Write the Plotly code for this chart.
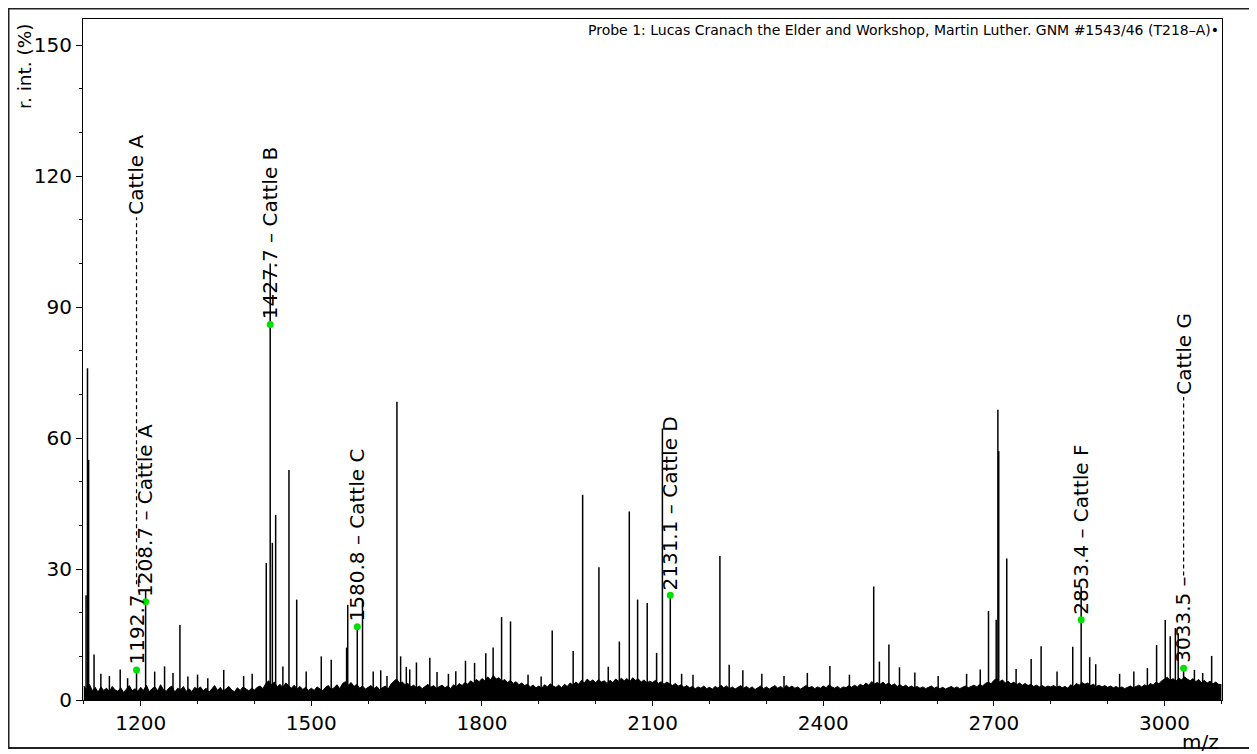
import plotly.graph_objects as go

# ---------------- data ----------------
NOISE_START = 1100
NOISE_STEP = 5
noise_levels = [
    3.2, 2.4, 3.6, 2.1, 2.9, 1.8, 3.0, 2.2, 2.7, 1.9, 3.1, 2.3, 2.0, 2.8, 1.7, 2.5, 3.3, 2.1, 2.6, 2.0,
    2.9, 2.2, 3.4, 1.9, 2.6, 3.0, 2.1, 3.5, 2.4, 2.0, 2.8, 3.2, 1.8, 2.7, 2.3, 3.1, 2.0, 2.6, 1.9, 2.9,
    2.4, 3.0, 2.1, 2.7, 1.8, 2.5, 3.3, 2.2, 2.9, 2.0, 2.6, 3.1, 2.3, 1.9, 2.8, 2.2, 3.0, 2.5, 2.1, 2.7,
    2.3, 2.9, 3.2, 2.6, 3.8, 4.4, 3.5, 4.1, 3.0, 3.6, 2.8, 3.9, 3.3, 2.7, 3.4, 2.5, 3.1, 2.4, 2.9, 2.2,
    2.7, 2.2, 3.0, 2.5, 2.1, 2.9, 3.3, 2.4, 2.8, 3.5, 2.6, 3.8, 4.2, 3.4, 4.0, 3.1, 3.6, 2.7, 3.2, 2.5,
    2.9, 3.3, 2.6, 3.1, 2.4, 2.8, 3.2, 2.5, 3.6, 4.3, 4.8, 3.9, 4.1, 3.5, 3.8, 3.0, 3.4, 2.8, 3.2, 2.6,
    3.1, 3.6, 2.9, 3.3, 2.7, 3.0, 3.4, 2.8, 3.2, 2.6, 3.5, 3.0, 3.8, 3.3, 4.0, 3.6, 4.4, 3.9, 4.7, 4.2,
    4.9, 4.4, 5.3, 4.6, 5.6, 4.8, 5.1, 4.3, 4.7, 4.0, 4.5, 3.8, 4.2, 3.5, 3.9, 3.3, 3.6, 3.0, 3.4, 2.8,
    3.2, 2.7, 3.5, 3.0, 3.7, 3.2, 2.9, 3.4, 2.8, 3.6, 3.1, 3.9, 3.4, 4.1, 3.6, 4.5, 3.9, 4.8, 4.2, 4.6,
    4.0, 4.7, 4.1, 4.4, 3.8, 4.5, 4.0, 4.8, 4.3, 5.0, 4.4, 4.9, 4.2, 5.1, 4.5, 4.8, 4.1, 4.6, 3.9, 4.3,
    4.0, 4.5, 3.8, 4.2, 3.6, 4.1, 3.7, 3.3, 3.8, 3.2, 3.5, 2.9, 3.3, 2.8, 3.1, 2.6, 3.0, 2.7, 3.2, 2.6,
    2.9, 2.5, 3.1, 2.7, 3.4, 2.8, 3.2, 2.6, 3.0, 2.5, 2.9, 3.3, 2.7, 3.1, 2.6, 3.0, 2.4, 2.8, 3.2, 2.6,
    3.0, 2.5, 2.9, 3.3, 2.7, 3.1, 2.6, 3.4, 2.8, 3.2, 2.7, 3.0, 2.5, 2.9, 3.3, 2.8, 3.1, 2.6, 3.0, 2.7,
    3.2, 2.8, 3.5, 3.0, 2.7, 3.1, 2.6, 3.0, 2.8, 3.3, 2.9, 3.4, 3.0, 3.6, 3.2, 3.9, 3.4, 4.2, 3.7, 4.0,
    3.6, 4.1, 3.5, 3.9, 3.3, 3.7, 3.1, 3.5, 3.0, 3.4, 2.9, 3.2, 2.8, 3.1, 2.7, 3.0, 2.6, 2.9, 3.2, 2.7,
    3.0, 2.6, 2.9, 2.5, 2.8, 3.1, 2.7, 3.0, 2.6, 2.9, 3.2, 2.8, 3.1, 3.4, 3.0, 3.6, 3.2, 3.8, 4.1, 3.7,
    4.5, 4.9, 4.2, 4.6, 3.9, 4.3, 3.7, 4.1, 3.5, 3.9, 3.4, 3.8, 3.3, 3.6, 3.1, 3.4, 3.0, 3.3, 2.9, 3.2,
    3.0, 3.3, 2.9, 3.2, 2.8, 3.1, 2.7, 3.5, 3.1, 3.8, 3.4, 4.0, 3.6, 3.9, 3.3, 3.6, 3.1, 3.4, 3.0, 3.3,
    2.9, 3.2, 2.8, 3.1, 2.7, 3.0, 2.6, 2.9, 3.2, 2.8, 3.1, 3.4, 3.0, 3.5, 3.1, 3.8, 3.4, 4.1, 3.7, 4.4,
    4.8, 5.2, 4.5, 4.9, 4.3, 5.0, 4.6, 5.3, 4.8, 4.4, 4.9, 4.2, 4.7, 4.0, 4.5, 3.9, 4.3, 3.7, 4.1, 3.6,
    3.5,
]

peak_mz = [
    1104.0, 1106.5, 1108.5, 1118.0, 1164.0, 1192.7, 1208.7, 1224.6, 1242.0, 1256.8,
    1269.0, 1283.0, 1346.0, 1420.8, 1427.7, 1431.5, 1437.3, 1450.0, 1460.7, 1474.3,
    1517.5, 1535.0, 1562.0, 1564.0, 1580.8, 1590.0, 1608.8, 1650.5, 1657.0, 1667.0,
    1673.0, 1684.8, 1708.3, 1771.0, 1787.0, 1806.7, 1819.6, 1834.5, 1850.2, 1904.0,
    1923.5, 1960.3, 1977.0, 2005.6, 2041.5, 2059.0, 2073.6, 2090.5, 2107.0, 2117.2,
    2131.1, 2218.3, 2234.6, 2258.6, 2411.7, 2488.7, 2498.7, 2515.4, 2534.0, 2690.5,
    2704.0, 2707.0, 2708.5, 2722.6, 2739.0, 2765.5, 2783.0, 2838.6, 2853.4, 2868.4,
    2879.0, 2969.8, 2986.0, 3001.2, 3010.0, 3019.0, 3024.0, 3033.5, 3043.0, 3052.5,
    3067.0, 3082.8,
    1130.0, 1145.0, 1177.0, 1300.0, 1318.0, 1381.0, 1396.0, 1491.0, 1622.0, 1633.0,
    1721.0, 1741.0, 1754.0, 1881.0, 2022.0, 2151.0, 2171.0, 2292.0, 2331.0, 2372.0,
    2446.0, 2561.0, 2602.0, 2652.0, 2676.0, 2811.0, 2921.0, 2946.0,
]
peak_int = [
    24.0, 76.0, 55.0, 10.4, 7.0, 7.0, 25.0, 6.5, 7.7, 6.2,
    17.2, 5.4, 6.9, 31.4, 100.0, 36.0, 42.4, 7.7, 52.7, 23.0,
    10.0, 9.2, 12.0, 21.8, 17.2, 23.0, 6.5, 68.3, 10.0, 7.6,
    7.0, 8.6, 9.7, 9.0, 8.5, 10.7, 12.0, 19.0, 18.0, 5.4,
    15.9, 11.2, 47.0, 30.4, 13.4, 43.2, 23.0, 22.2, 10.8, 62.2,
    24.3, 33.0, 8.1, 6.8, 7.8, 26.0, 8.8, 12.7, 7.5, 20.4,
    18.4, 66.5, 57.0, 32.4, 7.1, 9.4, 12.3, 12.2, 26.0, 9.8,
    8.2, 7.3, 12.6, 18.3, 14.6, 16.5, 15.3, 8.0, 4.6, 6.9,
    6.2, 10.1,
    6.0, 5.5, 5.0, 5.8, 5.0, 5.5, 6.0, 6.5, 6.8, 5.5,
    6.4, 6.0, 6.6, 5.8, 7.6, 6.0, 5.8, 6.0, 5.5, 6.2,
    5.8, 6.3, 5.5, 6.0, 7.0, 6.5, 6.0, 6.5,
]

label_mz = [1192.7, 1208.7, 1427.7, 1580.8, 2131.1, 2853.4, 3033.5]
label_dot = [6.9, 22.5, 86.0, 16.8, 24.0, 18.4, 7.3]
label_text = [
    "1192.7 –", "1208.7 – Cattle A", "1427.7 – Cattle B", "1580.8 – Cattle C",
    "2131.1 – Cattle D", "2853.4 – Cattle F", "3033.5 –",
]
moved_mz = [1192.7, 3033.5]
moved_text = ["Cattle A", "Cattle G"]
moved_from = [26.5, 28.5]
moved_to = [110.6, 69.4]

x_range = [1098.6, 3101]
y_range = [0, 156]

FONT = "DejaVu Sans"

# ---------------- figure ----------------
fig = go.Figure()

noise_x = [NOISE_START + NOISE_STEP * i for i in range(len(noise_levels))]
fig.add_trace(go.Scatter(
    x=noise_x, y=noise_levels, mode="lines", fill="tozeroy",
    fillcolor="black", line=dict(color="black", width=1),
    hoverinfo="skip", showlegend=False,
))

sx, sy = [], []
for m, h in zip(peak_mz, peak_int):
    sx += [m, m, None]
    sy += [0, h, None]
fig.add_trace(go.Scatter(
    x=sx, y=sy, mode="lines", line=dict(color="black", width=1.5),
    hoverinfo="skip", showlegend=False,
))

# dashed leader lines for moved labels
for m, y0, y1 in zip(moved_mz, moved_from, moved_to):
    fig.add_trace(go.Scatter(
        x=[m, m], y=[y0, y1], mode="lines",
        line=dict(color="black", width=1.2, dash="4px,3px"),
        hoverinfo="skip", showlegend=False,
    ))

fig.add_trace(go.Scatter(
    x=label_mz, y=label_dot, mode="markers",
    marker=dict(color="#00e000", size=7, line=dict(width=0)),
    hoverinfo="skip", showlegend=False,
))

annotations = []
for m, d, t in zip(label_mz, label_dot, label_text):
    annotations.append(dict(
        x=m, y=d, text=t, textangle=-90, xanchor="center", yanchor="bottom",
        yshift=3, showarrow=False, font=dict(size=20, family=FONT, color="black"),
    ))
for m, y1, t in zip(moved_mz, moved_to, moved_text):
    annotations.append(dict(
        x=m, y=y1, text=t, textangle=-90, xanchor="center", yanchor="bottom",
        yshift=0, showarrow=False, font=dict(size=20, family=FONT, color="black"),
    ))

annotations.append(dict(
    xref="paper", yref="paper", x=1, y=1, xanchor="right", yanchor="top",
    xshift=-1, yshift=-1,
    text="Probe 1: Lucas Cranach the Elder and Workshop, Martin Luther. GNM #1543/46 (T218–A)•",
    showarrow=False, font=dict(size=14, family=FONT, color="black"),
))
annotations.append(dict(
    xref="paper", yref="paper", x=-0.0509, y=0.931, xanchor="center", yanchor="middle",
    text="r. int. (%)", textangle=-90, showarrow=False,
    font=dict(size=18.5, family=FONT, color="black"),
))
annotations.append(dict(
    xref="paper", yref="paper", x=1, y=-0.0617, xanchor="right", yanchor="middle",
    xshift=-1, text="m/z", showarrow=False,
    font=dict(size=20, family=FONT, color="black"),
))

fig.update_layout(
    width=1249, height=746, autosize=False,
    margin=dict(l=75, r=35, t=11, b=54),
    paper_bgcolor="white", plot_bgcolor="white",
    showlegend=False,
    annotations=annotations,
    shapes=[dict(
        type="rect", xref="paper", yref="paper",
        x0=-0.0654, x1=1.0246, y0=-0.0705, y1=1.0154,
        line=dict(color="#222222", width=2), fillcolor="rgba(0,0,0,0)", layer="above",
    )],
)

fig.update_xaxes(
    range=x_range, tick0=0, dtick=300, ticks="outside", ticklen=5,
    tickcolor="black", tickwidth=1, showline=True, mirror=True,
    linecolor="black", linewidth=1, showgrid=False, zeroline=False,
    tickfont=dict(size=20, family=FONT, color="black"),
    minor=dict(dtick=100, tick0=0, ticks="outside", ticklen=3, tickcolor="black", showgrid=False),
)
fig.update_yaxes(
    range=y_range, tick0=0, dtick=30, ticks="outside", ticklen=6,
    tickcolor="black", tickwidth=1, showline=True, mirror=True,
    linecolor="black", linewidth=1, showgrid=False, zeroline=False,
    tickfont=dict(size=20, family=FONT, color="black"),
    minor=dict(dtick=10, tick0=0, ticks="outside", ticklen=3, tickcolor="black", showgrid=False),
)

fig.write_html(
    "out.html",
    post_script="document.documentElement.style.overflow='hidden';document.body.style.overflow='hidden';",
)
